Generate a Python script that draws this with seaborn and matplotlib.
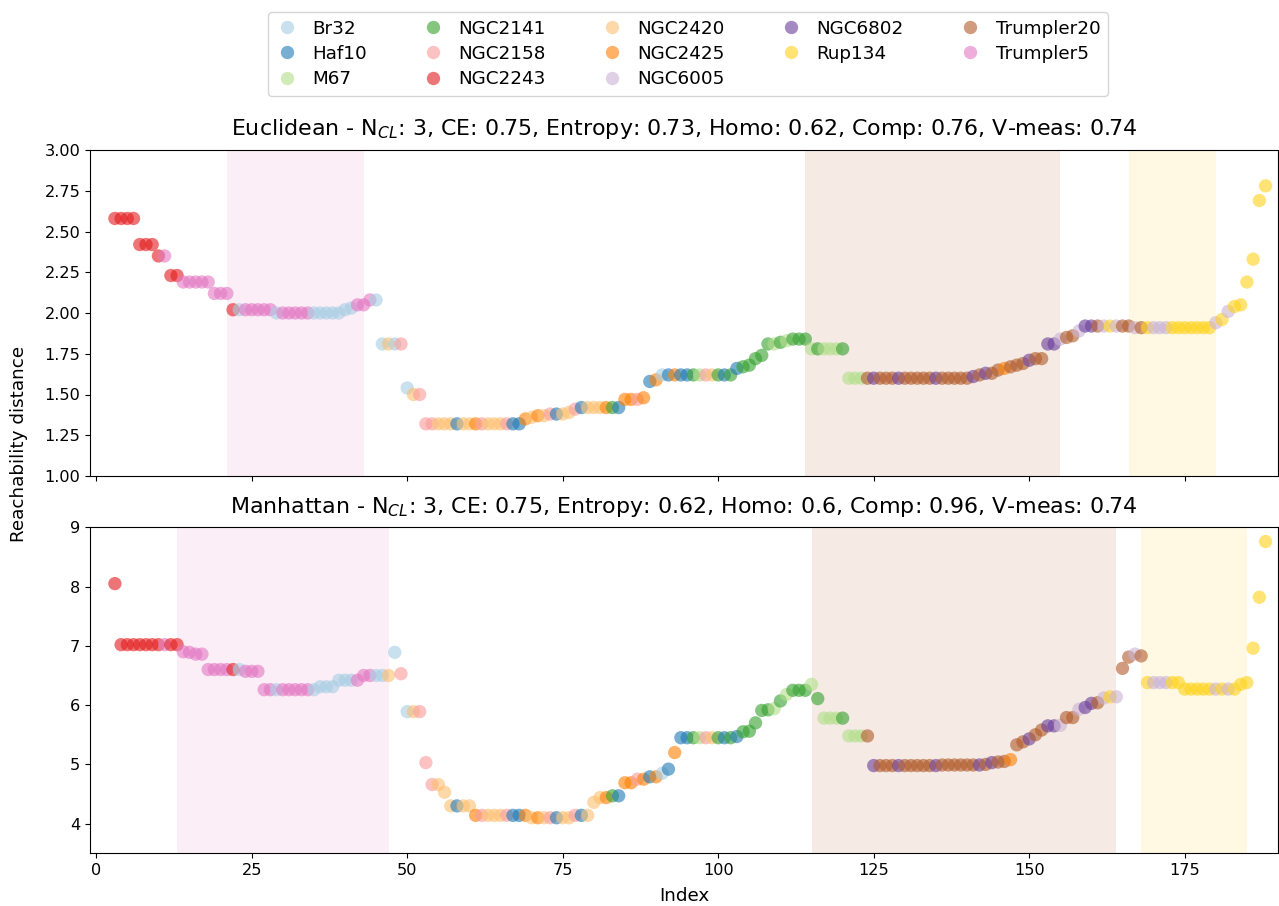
import numpy as np
import pandas as pd
import matplotlib
matplotlib.use("Agg")
import matplotlib.pyplot as plt
from matplotlib.lines import Line2D
import seaborn as sns

# Cluster names and their colours
clusters = ["Br32", "Haf10", "M67", "NGC2141", "NGC2158", "NGC2243", "NGC2420",
            "NGC2425", "NGC6005", "NGC6802", "Rup134", "Trumpler20", "Trumpler5"]
cluster_colors = ["#a6cee3", "#1f78b4", "#b2df8a", "#33a02c", "#fb9a99", "#e31a1c",
                  "#fdbf6f", "#ff7f00", "#cab2d6", "#6a3d9a", "#ffd21a", "#b15928",
                  "#e377c2"]
codes = {"br": "Br32", "hf": "Haf10", "m67": "M67", "n41": "NGC2141", "n58": "NGC2158",
         "n43": "NGC2243", "n20": "NGC2420", "n25": "NGC2425", "n05": "NGC6005",
         "n02": "NGC6802", "r134": "Rup134", "t20": "Trumpler20", "t5": "Trumpler5"}

# OPTICS ordering: the first points have infinite reachability and are not drawn
first_index = 3

# ---- Euclidean ordering ----
euc_labels = """
n43 n43 n43 n43 n43 n43 n43 n43 t5 n43 n43 t5 t5 t5 t5 t5 t5 t5 t5 n43 br t5 t5 t5
t5 t5 br t5 t5 t5 t5 t5 br br br br br br br t5 t5 t5 br br n20 br n58 br n20 n58
n58 n58 n20 n20 n20 hf n20 n20 n25 n58 n20 n20 n20 n58 hf hf n25 n20 n25 n20 n58 hf
n20 n20 n58 hf n20 n20 n20 n25 n41 hf n25 n25 n58 n25 hf n25 br hf n25 hf hf n41
m67 n58 n20 n41 hf n41 hf n41 n41 n41 n41 n41 m67 n41 m67 n41 n41 n41 m67 n41 m67 m67
m67 n41 m67 m67 m67 t20 n02 t20 t20 t20 n02 t20 t20 t20 t20 t20 n02 t20 t20 t20 t20 t20
n02 t20 n02 t20 t20 n25 t20 t20 t20 n02 t20 t20 n02 n02 n05 t20 t20 n05 n02 n02 t20 n05
r134 n05 t20 t20 n05 t20 r134 n05 n05 n05 r134 r134 r134 r134 r134 r134 r134 n05 r134
n05 r134 r134 r134 r134 r134 r134
""".split()
euc_reach = [
    2.58, 2.58, 2.58, 2.58, 2.42, 2.42, 2.42, 2.35, 2.35, 2.23, 2.23, 2.19, 2.19, 2.19,
    2.19, 2.19, 2.12, 2.12, 2.12, 2.02, 2.02, 2.02, 2.02, 2.02, 2.02, 2.02, 2.00, 2.00,
    2.00, 2.00, 2.00, 2.00, 2.00, 2.00, 2.00, 2.00, 2.00, 2.02, 2.03, 2.05, 2.05, 2.08,
    2.08, 1.81, 1.81, 1.81, 1.81, 1.54, 1.50, 1.50, 1.32, 1.32, 1.32, 1.32, 1.32, 1.32,
    1.32, 1.32, 1.32, 1.32, 1.32, 1.32, 1.32, 1.32, 1.32, 1.32, 1.35, 1.36, 1.37, 1.37,
    1.38, 1.38, 1.38, 1.39, 1.41, 1.42, 1.42, 1.42, 1.42, 1.42, 1.42, 1.42, 1.47, 1.47,
    1.47, 1.48, 1.58, 1.59, 1.62, 1.62, 1.62, 1.62, 1.62, 1.62, 1.62, 1.62, 1.62, 1.62,
    1.62, 1.62, 1.66, 1.67, 1.68, 1.72, 1.74, 1.81, 1.81, 1.82, 1.83, 1.84, 1.84, 1.84,
    1.78, 1.78, 1.78, 1.78, 1.78, 1.78, 1.60, 1.60, 1.60, 1.60, 1.60, 1.60, 1.60, 1.60,
    1.60, 1.60, 1.60, 1.60, 1.60, 1.60, 1.60, 1.60, 1.60, 1.60, 1.60, 1.60, 1.61, 1.62,
    1.63, 1.63, 1.65, 1.66, 1.67, 1.68, 1.69, 1.71, 1.72, 1.72, 1.81, 1.81, 1.84, 1.85,
    1.86, 1.89, 1.92, 1.92, 1.92, 1.92, 1.92, 1.92, 1.92, 1.92, 1.91, 1.91, 1.91, 1.91,
    1.91, 1.91, 1.91, 1.91, 1.91, 1.91, 1.91, 1.91, 1.91, 1.94, 1.96, 2.01, 2.04, 2.05,
    2.19, 2.33, 2.69, 2.78,
]

# ---- Manhattan ordering ----
man_labels = """
n43 n43 n43 n43 n43 n43 n43 n43 t5 n43 n43 t5 t5 t5 t5 t5 t5 t5 t5 n43 br t5 t5 t5
t5 t5 br t5 t5 t5 t5 t5 br br br br br br br t5 t5 t5 br br n20 br n58 br n20 n58
n58 n58 n20 n20 n20 hf n20 n20 n25 n58 n20 n20 n20 n58 hf hf n25 n20 n25 n20 n58 hf
n20 n20 n58 hf n20 n20 n20 n25 n41 hf n25 n25 n58 n25 hf n25 br hf n25 hf hf n41
m67 n58 n20 n41 hf n41 hf n41 n41 n41 n41 n41 m67 n41 m67 n41 n41 n41 m67 n41 m67 m67
m67 n41 m67 m67 m67 t20 n02 t20 t20 t20 n02 t20 t20 t20 t20 t20 n02 t20 t20 t20 t20 t20
t20 n02 t20 n02 t20 t20 n25 t20 t20 n02 t20 t20 n02 n02 n05 t20 t20 n05 n02 n02 t20 n05
r134 n05 t20 t20 n05 t20 r134 n05 n05 n05 r134 r134 r134 r134 r134 r134 r134 n05 r134
n05 r134 r134 r134 r134 r134 r134
""".split()
man_reach = [
    8.05, 7.02, 7.02, 7.02, 7.02, 7.02, 7.02, 7.02, 7.02, 7.02, 7.02, 6.90, 6.89, 6.86,
    6.86, 6.60, 6.60, 6.60, 6.60, 6.60, 6.60, 6.57, 6.57, 6.57, 6.26, 6.26, 6.26, 6.26,
    6.26, 6.26, 6.26, 6.26, 6.26, 6.31, 6.31, 6.31, 6.42, 6.42, 6.42, 6.42, 6.50, 6.50,
    6.50, 6.50, 6.50, 6.89, 6.53, 5.89, 5.89, 5.89, 5.03, 4.66, 4.66, 4.53, 4.30, 4.30,
    4.30, 4.30, 4.14, 4.14, 4.14, 4.14, 4.14, 4.14, 4.14, 4.14, 4.14, 4.10, 4.10, 4.10,
    4.10, 4.10, 4.10, 4.10, 4.14, 4.14, 4.14, 4.36, 4.44, 4.44, 4.47, 4.47, 4.69, 4.69,
    4.75, 4.75, 4.79, 4.79, 4.85, 4.92, 5.20, 5.45, 5.45, 5.45, 5.45, 5.45, 5.45, 5.45,
    5.45, 5.45, 5.47, 5.55, 5.56, 5.70, 5.91, 5.92, 5.94, 6.07, 6.18, 6.25, 6.25, 6.25,
    6.35, 6.11, 5.78, 5.78, 5.78, 5.78, 5.48, 5.48, 5.48, 5.48, 4.98, 4.98, 4.98, 4.98,
    4.98, 4.98, 4.98, 4.98, 4.98, 4.98, 4.98, 4.99, 4.99, 4.99, 4.99, 4.99, 4.99, 4.99,
    5.00, 5.03, 5.04, 5.05, 5.08, 5.33, 5.38, 5.43, 5.50, 5.58, 5.65, 5.65, 5.66, 5.79,
    5.79, 5.93, 5.96, 6.03, 6.04, 6.12, 6.14, 6.14, 6.62, 6.81, 6.86, 6.83, 6.38, 6.38,
    6.38, 6.38, 6.38, 6.38, 6.27, 6.27, 6.27, 6.27, 6.27, 6.27, 6.27, 6.27, 6.27, 6.35,
    6.38, 6.96, 7.82, 8.76,
]

# Clusters recovered by the extraction (shaded index ranges)
euc_span_start = [21, 114, 166]
euc_span_end = [43, 155, 180]
euc_span_cluster = ["Trumpler5", "Trumpler20", "Rup134"]
man_span_start = [13, 115, 168]
man_span_end = [47, 164, 185]
man_span_cluster = ["Trumpler5", "Trumpler20", "Rup134"]

euc_title = ("Euclidean - N$_{CL}$: 3, CE: 0.75, Entropy: 0.73, Homo: 0.62, "
             "Comp: 0.76, V-meas: 0.74")
man_title = ("Manhattan - N$_{CL}$: 3, CE: 0.75, Entropy: 0.62, Homo: 0.6, "
             "Comp: 0.96, V-meas: 0.74")

palette = dict(zip(clusters, cluster_colors))


def make_frame(labels, reach):
    n = len(reach)
    return pd.DataFrame({
        "Index": np.arange(first_index, first_index + n),
        "reach": reach,
        "cluster": [codes[c] for c in labels[:n]],
    })


plt.rcParams["font.family"] = ["DejaVu Sans"]
fig = plt.figure(figsize=(12.79, 9.06), dpi=100)
W, H = 1279.0, 906.0
ax_top = fig.add_axes([90 / W, 1 - 476 / H, (1278 - 90) / W, 326 / H])
ax_bot = fig.add_axes([90 / W, 1 - 853.3 / H, (1278 - 90) / W, 326 / H])

panels = [
    (ax_top, make_frame(euc_labels, euc_reach), euc_title,
     euc_span_start, euc_span_end, euc_span_cluster, (1.0, 3.0)),
    (ax_bot, make_frame(man_labels, man_reach), man_title,
     man_span_start, man_span_end, man_span_cluster, (3.5, 9.0)),
]

for ax, df, title, s0, s1, sc, ylim in panels:
    for a, b, c in zip(s0, s1, sc):
        ax.axvspan(a, b, color=palette[c], alpha=0.12, lw=0, zorder=0)
    sns.scatterplot(data=df, x="Index", y="reach", hue="cluster", hue_order=clusters,
                    palette=palette, s=92, alpha=0.6, linewidth=0, legend=False,
                    ax=ax, zorder=2)
    ax.set_xlim(-1, 190)
    ax.set_ylim(*ylim)
    ax.set_title(title, fontsize=15.9, pad=10.5)
    ax.set_ylabel("")
    ax.tick_params(labelsize=11.6)
    ax.set_xticks([0, 25, 50, 75, 100, 125, 150, 175])

ax_top.set_yticks([1.00, 1.25, 1.50, 1.75, 2.00, 2.25, 2.50, 2.75, 3.00])
ax_top.set_yticklabels([f"{v:.2f}" for v in ax_top.get_yticks()])
ax_top.set_xlabel("")
ax_top.tick_params(axis="x", labelbottom=False)
ax_bot.set_yticks([4, 5, 6, 7, 8, 9])
ax_bot.set_xlabel("Index", fontsize=13.2, labelpad=6.5)

fig.text(19 / W, 1 - 444 / H, "Reachability distance", rotation=90,
         ha="center", va="center", fontsize=13.2)

handles = [Line2D([], [], marker="o", linestyle="none", markersize=np.sqrt(92),
                  markerfacecolor=palette[c], markeredgewidth=0, alpha=0.6, label=c)
           for c in clusters]
fig.legend(handles=handles, loc="upper center", ncol=5,
           bbox_to_anchor=(688 / W, 1 - 3 / H), fontsize=13.2, frameon=True,
           handlelength=1.2, handletextpad=0.8, columnspacing=3.0, labelspacing=0.4)

fig.savefig("out.png", dpi=100)
